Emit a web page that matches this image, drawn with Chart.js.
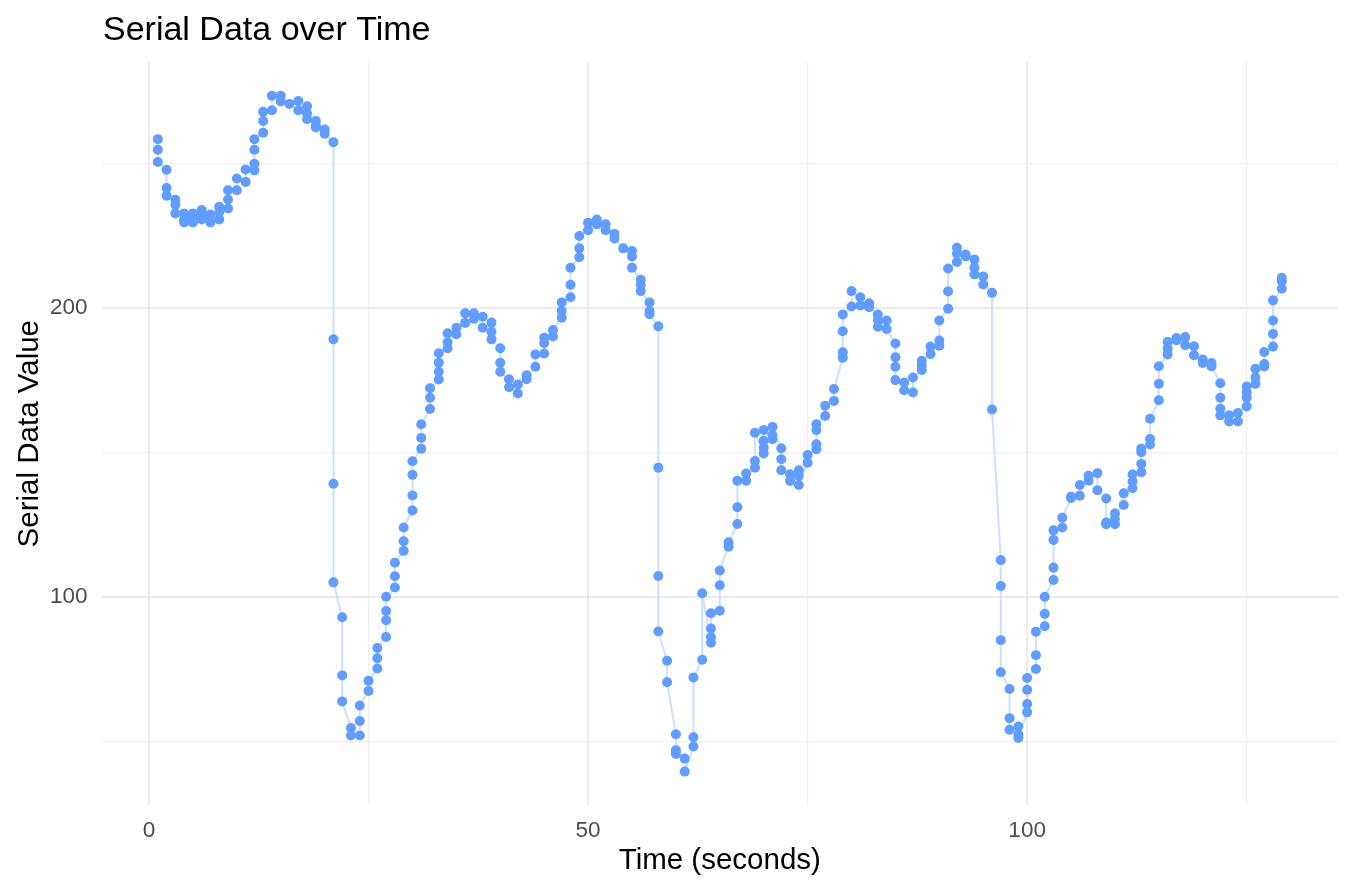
<!DOCTYPE html>
<html>
<head>
<meta charset="utf-8">
<title>Serial Data over Time</title>
<script src="https://cdn.jsdelivr.net/npm/chart.js@4"></script>
<style>
  html, body { margin: 0; padding: 0; background: #fff; }
  #wrap { width: 1352px; height: 892px; position: relative; }
</style>
</head>
<body>
<div id="wrap"><canvas id="serial__chart"></canvas></div>
<script>
// readings, several per second, in the order they were logged
const timeSec = [
  1,1,1, 2,2,2, 3,3,3, 4,4,4, 5,5,5, 6,6,6, 7,7,7, 8,8,8, 9,9,9, 10,10,
  11,11, 12,12,12,12, 13,13,13, 14,14, 15,15, 16, 17,17, 18,18,18, 19,19,19, 20,20,
  21,21,21,21, 22,22,22, 23,23, 24,24,24, 25,25, 26,26,26, 27,27,27,27, 28,28,28, 29,29,29, 30,30,30,30,
  31,31,31, 32,32,32, 33,33,33,33, 34,34,34, 35,35, 36,36, 37,37, 38,38, 39,39,39, 40,40,40,
  41,41, 42,42, 43,43, 44,44, 45,45,45, 46,46, 47,47,47, 48,48,48, 49,49,49, 50,50,
  51,51, 52,52, 53,53, 54, 55,55,55, 56,56,56, 57,57,57, 58,58,58,58, 59,59, 60,60,60,
  61,61, 62,62,62, 63,63, 64,64,64,64, 65,65,65, 66,66, 67,67,67, 68,68, 69,69,69, 70,70,70,70,
  71,71,71, 72,72,72, 73,73, 74,74,74, 75,75, 76,76,76,76, 77,77, 78,78, 79,79,79,79, 80,80,
  81,81, 82,82, 83,83,83, 84,84, 85,85,85,85, 86,86, 87,87, 88,88,88, 89,89, 90,90,90,
  91,91,91, 92,92,92, 93,93, 94,94,94, 95,95, 96,96, 97,97,97,97, 98,98,98, 99,99,99, 100,100,100,100,
  101,101,101, 102,102,102, 103,103,103,103, 104,104, 105,105, 106,106, 107,107, 108,108, 109,109,109, 110,110,110,
  111,111, 112,112,112, 113,113,113,113, 114,114,114, 115,115,115, 116,116,116, 117,117, 118,118, 119,119, 120,120,
  121,121, 122,122,122,122, 123,123, 124,124, 125,125,125,125, 126,126,126, 127,127,127, 128,128,128,128, 129,129,129
];

const serialValue = [
  258.5,254.8,250.6, 247.9,241.6,238.9, 237.5,235.8,232.8, 232.8,230.7,229.7, 231.6,229.7,232.8,
  234.0,232.2,230.7, 232.4,229.7,230.7, 230.7,233.2,235.1, 234.5,237.6,240.8, 240.8,244.9,
  243.7,248.0, 247.7,250.0,254.8,258.5, 260.7,264.8,268.0, 268.5,273.5, 273.5,271.5, 270.7, 271.7,268.5,
  269.9,267.4,265.4, 264.8,263.1,262.5, 261.8,260.4,
  257.4,189.2,139.2,105.1, 93.0,72.9,63.9, 54.7,52.1, 52.1,57.1,62.5, 67.5,71.0, 75.3,78.8,82.4,
  86.2,92.0,95.2,100.1, 103.3,107.2,111.9, 116.0,119.3,124.1, 130.0,135.2,142.3,147.0,
  151.3,155.1,159.8, 165.1,169.0,172.3, 175.3,178.0,181.1,184.4, 186.1,188.2,191.3, 191.0,193.2,
  194.9,198.2, 198.2,196.3, 197.0,193.2, 195.0,191.8,189.2, 186.1,181.1,178.0,
  175.4,172.6, 170.5,173.6, 175.4,176.8, 179.7,184.0, 184.3,187.9,189.8, 190.2,192.4,
  196.7,199.0,202.0, 203.8,208.1,214.0, 217.6,220.7,225.0, 227.0,229.6,
  229.0,230.7, 229.0,227.0, 225.7,224.1, 220.7, 219.8,217.9,214.0, 209.8,208.1,205.9,
  202.0,199.0,197.9, 193.7,144.8,107.3,88.1, 78.0,70.5, 52.5,47.0,45.7,
  44.1,39.6, 48.3,51.5,72.2, 78.3,101.3, 84.2,86.1,89.1,94.4, 95.3,104.1,109.2, 117.4,119.0,
  125.3,131.1,140.3, 140.3,142.8, 144.8,147.1,156.9, 149.7,151.7,154.1,157.8,
  154.6,156.1,158.9, 151.5,147.7,143.9, 142.5,140.2, 143.9,141.9,138.8, 146.5,149.2,
  151.2,152.9,157.8,159.8, 162.7,166.2, 167.9,172.0, 182.8,184.7,192.0,197.8, 200.6,205.9,
  203.8,200.9, 201.7,200.3, 197.8,195.9,193.6, 195.7,192.8, 187.8,183.0,179.7,175.1, 174.3,171.6,
  170.8,176.0, 178.6,180.1,181.8, 184.1,186.7, 187.0,188.8,195.7,
  199.8,205.8,213.7, 216.0,218.9,220.9, 218.6,217.9, 216.8,214.0,211.7, 211.0,208.2, 205.3,164.9,
  112.8,103.8,85.1,74.0, 68.2,58.1,54.1, 55.2,52.5,51.2, 60.1,63.0,67.9,72.0,
  75.1,79.9,88.0, 89.9,94.2,100.1, 105.9,110.2,119.8,123.1, 124.1,127.5, 134.3,134.7, 135.1,138.8,
  140.3,142.0, 142.9,137.0, 134.1,125.8,125.2, 125.2,127.0,128.9,
  131.9,135.9, 137.7,140.0,142.4, 143.2,146.1,150.1,151.3, 152.8,154.7,161.7, 168.1,173.8,179.9,
  184.0,186.0,188.3, 188.9,189.7, 190.0,187.2, 186.8,183.7, 182.2,181.0,
  181.0,179.8, 174.0,169.0,165.2,162.9, 162.9,160.8, 160.8,163.7, 166.0,169.0,170.9,172.9,
  173.8,176.1,179.0, 179.8,180.7,184.8, 186.7,191.1,195.7,202.7, 206.7,209.3,210.5
];

const xTicks = [0, 25, 50, 75, 100, 125];
const yTicks = [50, 100, 150, 200, 250];

const FONT = "'Liberation Sans', Arial, sans-serif";
const majorGrid = '#ebebeb';
const minorGrid = '#f0f0f0';

const points = timeSec.map((t, i) => ({ x: t, y: serialValue[i] }));

// title sits at the left edge of the panel, like ggplot
const plotTitle = {
  id: 'plotTitle',
  afterDraw(chart) {
    const ctx = chart.ctx;
    ctx.save();
    ctx.font = '34px ' + FONT;
    ctx.fillStyle = '#000';
    ctx.textAlign = 'left';
    ctx.textBaseline = 'alphabetic';
    ctx.fillText('Serial Data over Time', 103, 40);
    ctx.restore();
  }
};

const config = {
  type: 'line',
  data: {
    datasets: [{
      label: 'Serial Data',
      data: points,
      borderColor: '#cddfff',
      borderWidth: 2,
      backgroundColor: '#619CFF',
      pointBackgroundColor: '#619CFF',
      pointBorderWidth: 0,
      pointRadius: 5,
      tension: 0,
      fill: false
    }]
  },
  options: {
    responsive: true,
    maintainAspectRatio: false,
    animation: false,
    layout: { padding: { top: 62, right: 14, left: 0, bottom: 0 } },
    plugins: {
      legend: { display: false },
      tooltip: { enabled: false },
      title: { display: false }
    },
    scales: {
      x: {
        type: 'linear',
        min: -5.4,
        max: 135.4,
        afterBuildTicks: s => { s.ticks = xTicks.map(v => ({ value: v })); },
        afterFit: s => { s.height = 86.6; },
        border: { display: false },
        grid: {
          drawTicks: false,
          color: c => (c.tick && c.tick.value % 50 === 0) ? majorGrid : minorGrid,
          lineWidth: c => (c.tick && c.tick.value % 50 === 0) ? 2 : 1.3
        },
        ticks: {
          padding: 12,
          color: '#4d4d4d',
          font: { family: FONT, size: 22.5 },
          maxRotation: 0,
          callback: v => (v % 50 === 0 ? String(v) : '')
        },
        title: {
          display: true,
          text: 'Time (seconds)',
          color: '#000',
          font: { family: FONT, size: 29.5 },
          padding: { top: 0, bottom: 13 }
        }
      },
      y: {
        type: 'linear',
        min: 27.9,
        max: 285.2,
        afterBuildTicks: s => { s.ticks = yTicks.map(v => ({ value: v })); },
        afterFit: s => { s.width = 101.6; },
        border: { display: false },
        grid: {
          drawTicks: false,
          color: c => (c.tick && c.tick.value % 100 === 0) ? majorGrid : minorGrid,
          lineWidth: c => (c.tick && c.tick.value % 100 === 0) ? 2 : 1.3
        },
        ticks: {
          padding: 14,
          color: '#4d4d4d',
          font: { family: FONT, size: 22.5 },
          callback: v => (v % 100 === 0 ? String(v) : '')
        },
        title: {
          display: true,
          text: 'Serial Data Value',
          color: '#000',
          font: { family: FONT, size: 29.5 },
          padding: { top: 12, bottom: 0 }
        }
      }
    }
  },
  plugins: [plotTitle]
};

const serialChart = new Chart(document.getElementById('serial__chart'), config);
</script>
</body>
</html>
